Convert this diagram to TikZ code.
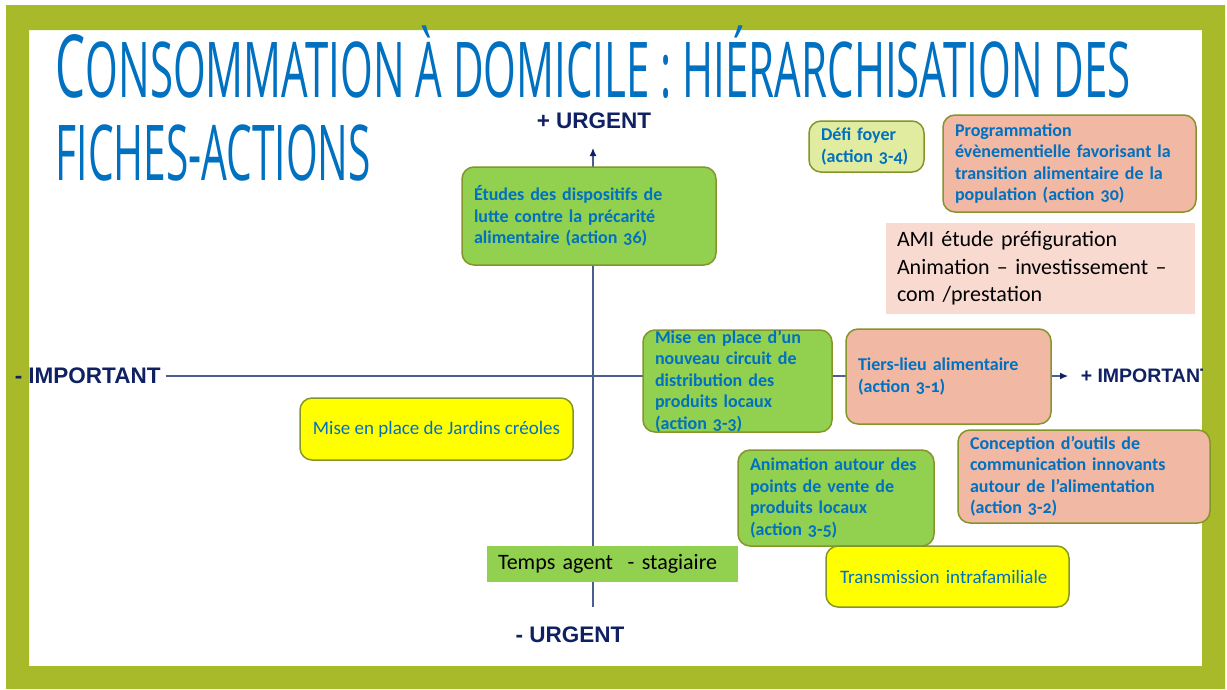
\documentclass[tikz,border=0pt]{standalone}
\usepackage{fontspec}
\setmainfont{Carlito}[Numbers=OldStyle]
\newfontfamily\titlefont{Open Sans}
\newfontfamily\axisfont{Liberation Sans}
\usetikzlibrary{arrows.meta}

\definecolor{cadre}{HTML}{A8B92A}
\definecolor{bleu}{HTML}{0070C0}
\definecolor{marine}{HTML}{0F2163}
\definecolor{axegris}{HTML}{4A5F8F}
\definecolor{bord}{HTML}{84952A}
\definecolor{vert}{HTML}{92D050}
\definecolor{vertclair}{HTML}{E2ECA0}
\definecolor{saumon}{HTML}{F1B8A4}
\definecolor{rose}{HTML}{F9DAD1}
\definecolor{jaune}{HTML}{FFFF00}

\begin{document}
\begin{tikzpicture}
[x=1pt, y=-1pt, line width=1.5pt,
action/.style={rectangle, rounded corners=12pt, draw=bord, align=left, text=bleu,
    font=\fontsize{18}{21.5}\selectfont\bfseries, inner xsep=12pt, inner ysep=3pt},
simple/.style={rectangle, rounded corners=12pt, draw=bord, align=center, text=bleu,
    font=\fontsize{19}{22}\selectfont, inner sep=4pt},
moyen/.style={rectangle, align=left, text=black,
    font=\fontsize{22}{27.5}\selectfont, inner xsep=11pt, inner ysep=3pt},
axelabel/.style={text=marine, font=\axisfont\bfseries\fontsize{22.5}{26}\selectfont, inner sep=5pt},
titre/.style={text=bleu, font=\titlefont, inner sep=0pt},
axe/.style={draw=axegris, line width=1.2pt}]

% fond et cadre
\fill[white] (0,0) rectangle (1227,689);
\fill[cadre, even odd rule] (6,5) rectangle (1225,689) (29,30) rectangle (1202,666);

% titre
\node[titre, anchor=base west] (titre1) at (55,97)
    {\resizebox{1075pt}{\height}{\fontsize{87}{90}\selectfont C\fontsize{77}{80}\selectfont ONSOMMATION À DOMICILE : HIÉRARCHISATION DES}};
\node[titre, anchor=base west] (titre2) at (55,180)
    {\resizebox{315pt}{\height}{\fontsize{77}{80}\selectfont FICHES-ACTIONS}};

% axes
\node[axelabel, anchor=west] (impmoins) at (9,376) {- IMPORTANT};
\node[axelabel] (urgplus) at (594,121) {+ URGENT};
\node[axelabel] (urgmoins) at (570,635) {- URGENT};
\coordinate (axhaut) at (593,148);
\coordinate (axbas) at (593,607);
\coordinate (axdroite) at (1068,376);
\draw[axe, -{Latex[length=8pt,width=7pt,color=marine]}] (axbas) -- (axhaut);
\draw[axe, -{Latex[length=8pt,width=7pt,color=marine]}] (impmoins) -- (axdroite);
\begin{scope}
\clip (29,30) rectangle (1202,666);
\node[axelabel, anchor=west, font=\axisfont\bfseries\fontsize{19.5}{24}\selectfont] (impplus) at (1075,376) {+ IMPORTANT};
\end{scope}

% fiches-actions
\node[action, fill=vert, text width=230pt, minimum height=98pt] (etudes) at (589,216)
    {Études des dispositifs de\\lutte contre la précarité\\alimentaire (action 36)};
\node[action, fill=vertclair, text width=91pt, minimum height=51pt] (defi) at (866.5,146.5)
    {Défi foyer\\(action 3-4)};
\node[action, fill=saumon, text width=229pt, minimum height=97pt] (programme) at (1069.5,163.5)
    {Programmation\\évènementielle favorisant la\\transition alimentaire de la\\population (action 30)};
\node[moyen, fill=rose, text width=287pt, minimum height=91pt] (ami) at (1040.5,268.5)
    {AMI étude préfiguration\\Animation -- investissement --\\com /prestation};
\node[action, fill=vert, text width=165pt, minimum height=102pt, inner ysep=0pt] (circuit) at (737.5,381)
    {Mise en place d’un\\nouveau circuit de\\distribution des\\produits locaux\\(action 3-3)};
\node[action, fill=saumon, text width=181pt, minimum height=95pt] (tiers) at (948.5,376.5)
    {Tiers-lieu alimentaire\\(action 3-1)};
\node[simple, fill=jaune, minimum width=273pt, minimum height=62pt] (jardins) at (436.5,429)
    {Mise en place de Jardins créoles};
\node[action, fill=saumon, text width=228pt, minimum height=93pt] (conception) at (1084,476.5)
    {Conception d’outils de\\communication innovants\\autour de l’alimentation\\(action 3-2)};
\node[action, fill=vert, text width=172pt, minimum height=96pt] (animation) at (836,498)
    {Animation autour des\\points de vente de\\produits locaux\\(action 3-5)};
\node[moyen, fill=vert, text width=229pt, minimum height=36pt, inner ysep=0pt] (temps) at (612.5,564)
    {Temps agent~ - stagiaire};
\node[simple, fill=jaune, align=left, text width=215pt, inner xsep=14pt, minimum height=61pt] (transmission) at (947.5,576.5)
    {Transmission intrafamiliale};

\end{tikzpicture}
\end{document}
